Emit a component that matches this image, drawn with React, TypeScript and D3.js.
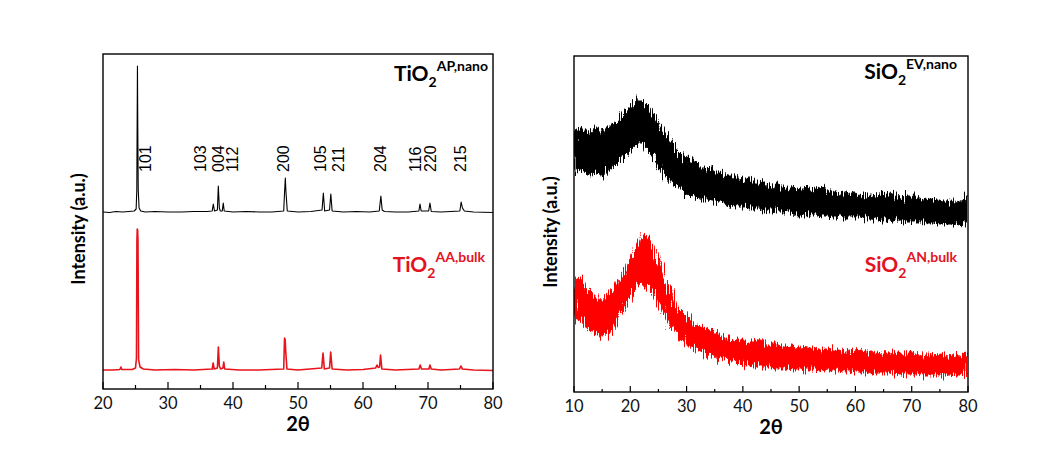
import React from "react";
import * as d3 from "d3";

// ---------- Left panel: TiO2 XRD (2θ, intensity a.u.) ----------
const TIO2_NANO: [number, number][] = [
  [20, 177], [21, 176.5], [22, 177.5], [23, 177], [24, 177.5], [24.8, 178], [25.1, 180],
  [25.2, 199], [25.25, 262], [25.3, 323], [25.35, 262], [25.42, 199], [25.55, 181], [25.8, 178],
  [26.5, 177], [28, 177.5], [30, 177], [32, 177], [34, 177.5], [36, 177.5], [36.8, 178],
  [36.97, 185], [37.15, 178], [37.6, 179], [37.74, 203], [37.9, 181], [38.05, 178], [38.35, 178],
  [38.5, 186], [38.65, 178], [40, 177], [42, 177.5], [44, 177], [46, 177], [47.8, 178],
  [47.95, 199], [48.05, 211], [48.15, 197], [48.35, 178], [50, 177], [52, 177.5], [53.7, 179],
  [53.9, 196], [54.1, 178], [54.85, 179], [55.05, 195], [55.25, 178], [57, 177], [59, 177.5],
  [61, 177], [62.5, 178], [62.75, 193], [62.95, 179], [63.3, 177.5], [65, 177], [67, 177],
  [68.6, 178], [68.77, 185], [68.95, 178], [70.1, 178], [70.3, 186], [70.5, 177.5], [72, 177],
  [74.9, 178], [75.1, 187], [75.3, 181], [75.6, 178], [77, 177], [80, 176.5],
];

const TIO2_BULK: [number, number][] = [
  [20, 19], [21.5, 19], [22.6, 19.5], [22.75, 22], [22.9, 19.5], [24.5, 19.5], [25.0, 21],
  [25.15, 31], [25.22, 149], [25.27, 160], [25.33, 159], [25.38, 149], [25.48, 29], [25.7, 22],
  [26.2, 20], [28, 19], [31, 19.5], [34, 19], [36.8, 20], [36.95, 26], [37.1, 20], [37.6, 21],
  [37.75, 42], [37.9, 23], [38.1, 20], [38.45, 21], [38.58, 27], [38.72, 20], [41, 19], [44, 19],
  [47.8, 20], [47.93, 51], [48.03, 49], [48.1, 39], [48.3, 20], [50, 19], [53.65, 21],
  [53.85, 36], [54.05, 20], [54.85, 21], [55.03, 37], [55.25, 20], [57.5, 19], [60, 19.5],
  [61.95, 21], [62.15, 24], [62.35, 21.5], [62.55, 22], [62.7, 34], [62.9, 20], [65, 19],
  [68.6, 20], [68.8, 24], [69.0, 20], [70.15, 20], [70.3, 24], [70.5, 20], [72, 19],
  [74.85, 20], [75.05, 23], [75.3, 20], [77, 19], [80, 18.5],
];

const PEAK_LABELS = ["101", "103", "004", "112", "200", "105", "211", "204", "116", "220", "215"];
const PEAK_LABEL_POS = [26.46, 34.92, 37.69, 39.85, 47.69, 53.38, 56.15, 62.62, 68.0, 70.31, 74.92];
const PEAK_LABEL_BASE = 217;

const LEFT_X_TICKS = [20, 30, 40, 50, 60, 70, 80];
const LEFT_X_MINOR = [25, 35, 45, 55, 65, 75];

// ---------- Right panel: SiO2 XRD noise band envelopes, 2θ = 10..80 step 1 ----------
const SIO2_THETA = d3.range(10, 81, 1);
const SIO2_NANO_UPPER = [
  262, 264, 260, 262, 264, 261, 265, 268, 272, 278, 286, 292, 290, 286, 278, 268, 258, 252, 244, 238,
  234, 230, 228, 224, 224, 220, 220, 216, 216, 214, 212, 214, 210, 210, 208, 206, 208, 204, 204, 206,
  202, 202, 204, 202, 206, 200, 200, 198, 200, 198, 200, 196, 196, 198, 196, 200, 196, 197, 194, 196,
  196, 194, 192, 194, 192, 192, 190, 192, 190, 192, 196,
];
const SIO2_NANO_LOWER = [
  220, 222, 220, 218, 220, 216, 222, 224, 228, 234, 242, 248, 250, 242, 236, 226, 218, 212, 206, 202,
  198, 196, 194, 192, 192, 190, 190, 188, 187, 186, 186, 184, 184, 184, 182, 182, 180, 180, 180, 179,
  178, 178, 177, 177, 176, 176, 175, 175, 174, 174, 174, 174, 173, 173, 172, 172, 172, 171, 171, 170,
  170, 170, 170, 169, 169, 168, 168, 168, 167, 168, 170,
];
const SIO2_BULK_UPPER = [
  112, 114, 104, 98, 94, 92, 96, 102, 112, 122, 134, 144, 156, 154, 144, 130, 114, 100, 88, 80,
  74, 70, 66, 64, 62, 60, 56, 54, 54, 52, 52, 50, 50, 52, 48, 48, 48, 46, 46, 46,
  44, 46, 44, 44, 42, 44, 42, 42, 40, 42, 40, 42, 40, 40, 38, 40, 38, 40, 38, 38,
  40, 38, 36, 38, 36, 38, 36, 38, 36, 38, 40,
];
const SIO2_BULK_LOWER = [
  70, 72, 66, 60, 58, 54, 58, 64, 74, 86, 96, 102, 108, 106, 100, 90, 78, 68, 60, 54,
  48, 44, 42, 40, 38, 36, 34, 32, 31, 30, 28, 27, 26, 26, 25, 25, 24, 24, 24, 23,
  23, 22, 22, 22, 22, 21, 21, 21, 20, 20, 20, 20, 20, 19, 19, 19, 19, 18, 18, 18,
  18, 18, 17, 17, 17, 17, 17, 17, 17, 17, 18,
];

const RIGHT_X_TICKS = [10, 20, 30, 40, 50, 60, 70, 80];
const RIGHT_X_MINOR = [15, 25, 35, 45, 55, 65, 75];

const FONT = "Lato, 'Open Sans', sans-serif";
const RED_LINE = "#e8141c";
const RED_BAND = "#ff0000";
const RED_TEXT = "#e3141f";

function Title({ x, y, main, sub, sup, color }: { x: number; y: number; main: string; sub: string; sup: string; color: string }) {
  return (
    <text x={x} y={y} textAnchor="end" fontFamily={FONT} fontWeight="bold" fill={color} fontSize={21}>
      <tspan>{main}</tspan>
      <tspan fontSize={14} dy={6}>{sub}</tspan>
      <tspan fontSize={14} dy={-16}>{sup}</tspan>
    </text>
  );
}

function XAxis({ x, y, ticks, minor, major, minorLen }: { x: d3.ScaleLinear<number, number>; y: number; ticks: number[]; minor: number[]; major: number; minorLen: number }) {
  return (
    <g>
      {ticks.map((t) => (
        <g key={"M" + t}>
          <line x1={x(t)} x2={x(t)} y1={y} y2={y - major} stroke="#000" strokeWidth={1.2} />
          <text x={x(t)} y={y + 20} textAnchor="middle" fontFamily={FONT} fontSize={16.5} fill="#111">{t}</text>
        </g>
      ))}
      {minor.map((t) => (
        <line key={"m" + t} x1={x(t)} x2={x(t)} y1={y} y2={y - minorLen} stroke="#000" strokeWidth={1.2} />
      ))}
    </g>
  );
}

export default function App() {
  // Left panel frame
  const L = { left: 103, right: 493, top: 54, bottom: 389 };
  const xL = d3.scaleLinear().domain([20, 80]).range([L.left, L.right]);
  const yL = d3.scaleLinear().domain([0, L.bottom - L.top]).range([L.bottom, L.top]);
  const lineL = d3.line<[number, number]>().x((d) => xL(d[0])).y((d) => yL(d[1]));

  // Right panel frame
  const R = { left: 574, right: 968, top: 56, bottom: 392 };
  const xR = d3.scaleLinear().domain([10, 80]).range([R.left, R.right]);
  const yR = d3.scaleLinear().domain([0, R.bottom - R.top]).range([R.bottom, R.top]);
  const band = (up: number[], lo: number[]) =>
    d3
      .area<number>()
      .x((_, i) => xR(SIO2_THETA[i]))
      .y0((_, i) => yR(lo[i]))
      .y1((_, i) => yR(up[i]))
      .curve(d3.curveMonotoneX)(SIO2_THETA);

  return (
    <svg width={1048} height={470} style={{ position: "absolute", left: 0, top: 0, background: "#fff" }}>
      <defs>
        <filter id="xrdNoise" x="-2%" y="-30%" width="104%" height="160%">
          <feTurbulence type="fractalNoise" baseFrequency="0.9 0.04" numOctaves={2} seed={7} result="n" />
          <feDisplacementMap in="SourceGraphic" in2="n" scale={18} xChannelSelector="G" yChannelSelector="R" />
        </filter>
        <clipPath id="rightClip">
          <rect x={R.left} y={R.top} width={R.right - R.left} height={R.bottom - R.top} />
        </clipPath>
      </defs>
      <rect width={1048} height={470} fill="#fff" />
      {/* ---------- Left panel ---------- */}
      <g>
        <path d={lineL(TIO2_NANO) || ""} fill="none" stroke="#000" strokeWidth={1.1} strokeLinejoin="round" />
        <path d={lineL(TIO2_BULK) || ""} fill="none" stroke={RED_LINE} strokeWidth={1.6} strokeLinejoin="round" />
        {PEAK_LABELS.map((lab, i) => {
          const px = xL(PEAK_LABEL_POS[i]) + 6;
          const py = yL(PEAK_LABEL_BASE);
          return (
            <text key={lab} x={px} y={py} transform={`rotate(-90 ${px} ${py})`} fontFamily="'Liberation Sans', Arial, sans-serif" fontSize={16} fill="#000">
              {lab}
            </text>
          );
        })}
        <rect x={L.left} y={L.top} width={L.right - L.left} height={L.bottom - L.top} fill="none" stroke="#000" strokeWidth={1.4} />
        <XAxis x={xL} y={L.bottom} ticks={LEFT_X_TICKS} minor={LEFT_X_MINOR} major={7} minorLen={4} />
        <text x={(L.left + L.right) / 2} y={431} textAnchor="middle" fontFamily={FONT} fontWeight="bold" fontSize={20}>2θ</text>
        <text transform="translate(85 229) rotate(-90)" textAnchor="middle" fontFamily={FONT} fontWeight="bold" fontSize={18}>Intensity (a.u.)</text>
        <Title x={488} y={81} main="TiO" sub="2" sup="AP,nano" color="#000" />
        <Title x={485} y={272} main="TiO" sub="2" sup="AA,bulk" color={RED_TEXT} />
      </g>

      {/* ---------- Right panel ---------- */}
      <g>
        <g clipPath="url(#rightClip)">
          <g filter="url(#xrdNoise)">
            <path d={band(SIO2_NANO_UPPER, SIO2_NANO_LOWER) || ""} fill="#000" stroke="#000" strokeWidth={1} />
            <path d={band(SIO2_BULK_UPPER, SIO2_BULK_LOWER) || ""} fill={RED_BAND} stroke={RED_BAND} strokeWidth={1} />
          </g>
        </g>
        <rect x={R.left} y={R.top} width={R.right - R.left} height={R.bottom - R.top} fill="none" stroke="#000" strokeWidth={1.4} />
        <XAxis x={xR} y={R.bottom} ticks={RIGHT_X_TICKS} minor={RIGHT_X_MINOR} major={6} minorLen={3} />
        <text x={(R.left + R.right) / 2} y={434} textAnchor="middle" fontFamily={FONT} fontWeight="bold" fontSize={20}>2θ</text>
        <text transform="translate(557 232) rotate(-90)" textAnchor="middle" fontFamily={FONT} fontWeight="bold" fontSize={18}>Intensity (a.u.)</text>
        <Title x={957} y={79} main="SiO" sub="2" sup="EV,nano" color="#000" />
        <Title x={957} y={272} main="SiO" sub="2" sup="AN,bulk" color={RED_TEXT} />
      </g>
    </svg>
  );
}
